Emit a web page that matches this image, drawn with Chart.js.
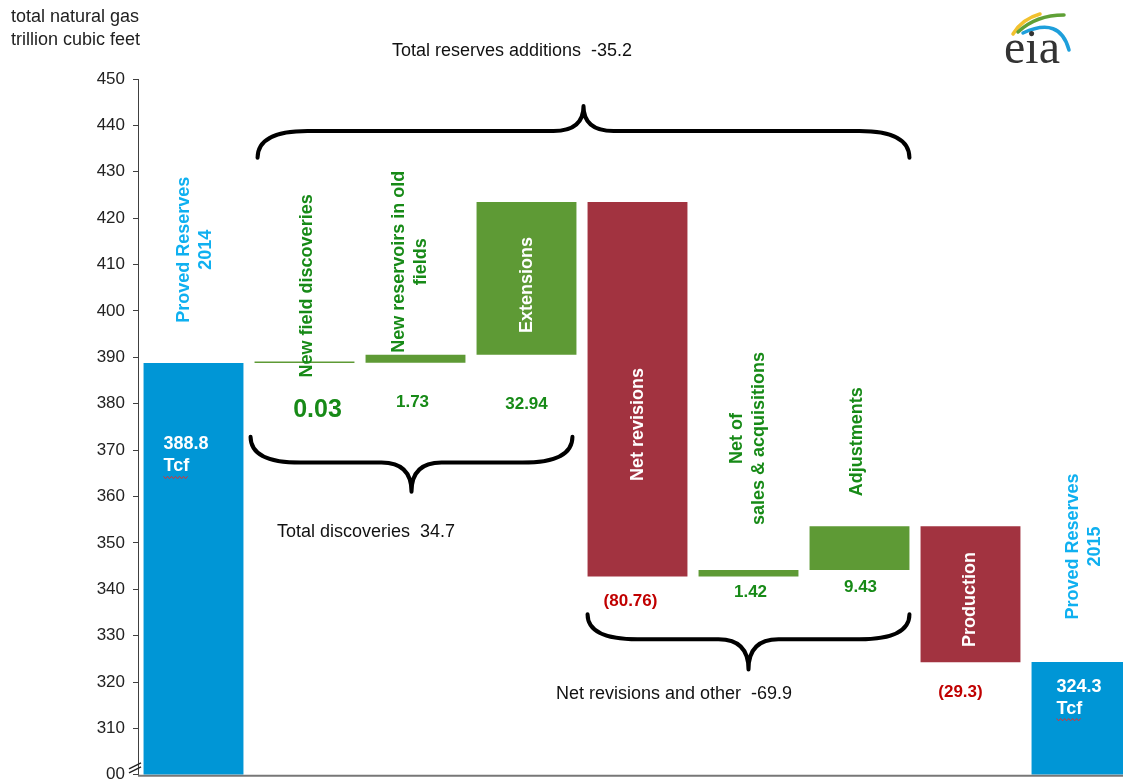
<!DOCTYPE html>
<html>
<head>
<meta charset="utf-8">
<script src="https://cdn.jsdelivr.net/npm/chart.js@4.4.0/dist/chart.umd.min.js"></script>
<style>
  html, body { margin: 0; padding: 0; background: #fff; overflow: hidden; }
  #wrap { width: 1123px; height: 782px; overflow: hidden; }
</style>
</head>
<body>
<div id="wrap"><canvas id="myChart" width="1140" height="793"></canvas></div>
<script>
// data (trillion cubic feet)
var categories = [
  ['Proved Reserves', '2014'],
  ['New field discoveries'],
  ['New reservoirs in old', 'fields'],
  ['Extensions'],
  ['Net revisions'],
  ['Net of', 'sales & acquisitions'],
  ['Adjustments'],
  ['Production'],
  ['Proved Reserves', '2015']
]
var changes = [388.8, 0.03, 1.73, 32.94, -80.76, 1.42, 9.43, -29.3, 324.3]
var kinds = ['total', 'add', 'add', 'add', 'sub', 'add', 'add', 'sub', 'total']
var valueLabels = [['388.8', 'Tcf'], ['0.03'], ['1.73'], ['32.94'], ['(80.76)'], ['1.42'], ['9.43'], ['(29.3)'], ['324.3', 'Tcf']]
var yMin = 300, yMax = 450, yStep = 10

var BLUE = '#0096D6', GREEN = '#5E9A35', RED = '#A23340'
var TXT_BLUE = '#0FB0F0', TXT_GREEN = '#178A17', TXT_RED = '#C00000'
var FONT = '"Liberation Sans", Arial, sans-serif'

// floating ranges for the waterfall
var ranges = []
var running = 0
for (var i = 0; i < changes.length; i++) {
  if (kinds[i] == 'total') {
    ranges.push([yMin, changes[i]])
    running = changes[i]
  } else {
    ranges.push([running, running + changes[i]])
    running += changes[i]
  }
}
var barColors = kinds.map(function(k){ return k == 'total' ? BLUE : (k == 'add' ? GREEN : RED) })

function sum(a, b) { var s = 0; for (var i = a; i <= b; i++) s += changes[i]; return s }

// label placement (value units on the y scale, pixel nudges on x)
var catY = [413.2, 405.4, 410.6, 405.6, 375.5, 372.5, 371.8, 337.8, 349.2]
var catDx = [1.5, 3, -5, 1, 1, 0, -2, 0, 3]
var catColor = [TXT_BLUE, TXT_GREEN, TXT_GREEN, '#fff', '#fff', TXT_GREEN, TXT_GREEN, '#fff', TXT_BLUE]
var valY = [371.2, 378.7, 380.2, 379.8, 337.4, 339.3, 340.4, 317.75, 319.0]
var valDx = [0, 13, -3, 0, -7, 2, 1, -10, 0]

var annotations = {
  id: 'annotations',
  afterDatasetsDraw: function(chart) {
    var c = chart.ctx
    var x = chart.scales.x, y = chart.scales.y
    var half = x.getPixelForValue(1) - x.getPixelForValue(0)
    var bw = half * 0.9
    c.save()

    // category names, rotated
    c.font = 'bold 18px ' + FONT
    c.textAlign = 'center'
    c.textBaseline = 'middle'
    for (var i = 0; i < categories.length; i++) {
      var lines = categories[i]
      c.save()
      c.translate(x.getPixelForValue(i) + catDx[i], y.getPixelForValue(catY[i]))
      c.rotate(-Math.PI / 2)
      c.fillStyle = catColor[i]
      for (var j = 0; j < lines.length; j++) {
        c.fillText(lines[j], 0, (j - (lines.length - 1) / 2) * 22)
      }
      c.restore()
    }

    // value labels
    for (var i = 0; i < valueLabels.length; i++) {
      var lines = valueLabels[i]
      var yy = y.getPixelForValue(valY[i])
      if (kinds[i] == 'total') {
        c.fillStyle = '#fff'
        c.font = 'bold 18px ' + FONT
        c.textAlign = 'left'
        var lx = x.getPixelForValue(i) - bw / 2 + (i == 0 ? 20 : 25)
        c.fillText(lines[0], lx, yy)
        c.fillText(lines[1], lx, yy + 22)
        // spell-check squiggle under Tcf
        var tw = c.measureText(lines[1]).width
        c.strokeStyle = '#E03030'
        c.lineWidth = 1
        c.beginPath()
        for (var k = 0; k <= tw; k += 2) {
          var sy = yy + 22 + 11 + ((k / 2) % 2 ? 1.2 : -1.2)
          if (k == 0) c.moveTo(lx + k, sy); else c.lineTo(lx + k, sy)
        }
        c.stroke()
      } else {
        c.fillStyle = kinds[i] == 'add' ? TXT_GREEN : TXT_RED
        c.font = (i == 1 ? 'bold 25px ' : 'bold 17px ') + FONT
        c.textAlign = 'center'
        c.fillText(lines[0], x.getPixelForValue(i) + valDx[i], yy)
      }
    }

    // curly braces
    function brace(x1, x2, yEnd, yMid, yTip) {
      var tx = (x1 + x2) / 2
      var e = y.getPixelForValue(yEnd), m = y.getPixelForValue(yMid), t = y.getPixelForValue(yTip)
      c.beginPath()
      c.moveTo(x1, e)
      c.quadraticCurveTo(x1, m, x1 + 50, m)
      c.lineTo(tx - 30, m)
      c.quadraticCurveTo(tx, m, tx, t)
      c.moveTo(x2, e)
      c.quadraticCurveTo(x2, m, x2 - 50, m)
      c.lineTo(tx + 30, m)
      c.quadraticCurveTo(tx, m, tx, t)
      c.stroke()
    }
    c.strokeStyle = '#000'
    c.lineWidth = 4
    c.lineCap = 'round'
    brace(x.getPixelForValue(1) - bw / 2 + 3, x.getPixelForValue(6) + bw / 2, 433.0, 438.8, 444.2)
    brace(x.getPixelForValue(1) - bw / 2 - 4, x.getPixelForValue(3) + bw / 2 - 4, 372.9, 367.3, 361.0)
    brace(x.getPixelForValue(4) - bw / 2, x.getPixelForValue(6) + bw / 2, 334.6, 329.2, 322.7)

    c.fillStyle = '#111'
    c.font = '18px ' + FONT
    c.textAlign = 'left'
    c.fillText('Total reserves additions  ' + sum(1, 6).toFixed(1), 392, 51)
    c.fillText('Total discoveries  ' + sum(1, 3).toFixed(1), 277, 532)
    c.fillText('Net revisions and other  ' + sum(4, 6).toFixed(1), 556, 694)

    // axis title
    c.fillStyle = '#222'
    c.fillText('total natural gas', 11, 17)
    c.fillText('trillion cubic feet', 11, 40)

    // bottom axis line and break mark
    var bottom = chart.chartArea.bottom
    c.strokeStyle = '#777'
    c.lineWidth = 2
    c.lineCap = 'butt'
    c.beginPath()
    c.moveTo(chart.chartArea.left, bottom + 1)
    c.lineTo(chart.width, bottom + 1)
    c.stroke()
    c.strokeStyle = '#222'
    c.lineWidth = 1.5
    var by = bottom - 12
    c.beginPath()
    c.moveTo(129, by + 6); c.lineTo(141, by)
    c.moveTo(129, by + 10); c.lineTo(141, by + 4)
    c.stroke()

    // eia logo
    c.lineWidth = 3.5
    c.lineCap = 'round'
    c.strokeStyle = '#F2C12E'
    c.beginPath(); c.moveTo(1013, 34); c.quadraticCurveTo(1022, 19, 1040, 14); c.stroke()
    c.strokeStyle = '#5FA036'
    c.beginPath(); c.moveTo(1018, 32); c.quadraticCurveTo(1036, 15, 1064, 15); c.stroke()
    c.strokeStyle = '#1E9FDB'
    c.beginPath(); c.moveTo(1023, 33); c.quadraticCurveTo(1060, 16, 1069, 50); c.stroke()
    c.fillStyle = '#333'
    c.font = '48px "Liberation Serif", "DejaVu Serif", serif'
    c.textAlign = 'left'
    c.textBaseline = 'alphabetic'
    c.fillText('eia', 1004, 63)

    c.restore()
  }
}

var ctx = document.getElementById('myChart')
new Chart(ctx, {
  type: 'bar',
  data: {
    labels: categories.map(function(l){ return l.join(' ') }),
    datasets: [{
      data: ranges,
      backgroundColor: barColors,
      borderWidth: 0,
      minBarLength: 1.5,
      barPercentage: 0.9,
      categoryPercentage: 1
    }]
  },
  options: {
    responsive: false,
    animation: false,
    devicePixelRatio: 1,
    layout: { padding: { top: 79, bottom: 7, left: 0, right: 3 } },
    plugins: { legend: { display: false }, tooltip: { enabled: false } },
    scales: {
      x: { display: false },
      y: {
        min: yMin,
        max: yMax,
        afterFit: function(scale) { scale.width = 138 },
        ticks: {
          stepSize: yStep,
          padding: 8,
          color: '#222',
          font: { family: FONT, size: 17 },
          callback: function(v) { return v == yMin ? '00' : v }
        },
        grid: { drawOnChartArea: false, drawTicks: true, tickLength: 5, color: '#404040' },
        border: { display: true, color: '#404040', width: 1 }
      }
    }
  },
  plugins: [annotations]
})
</script>
</body>
</html>
